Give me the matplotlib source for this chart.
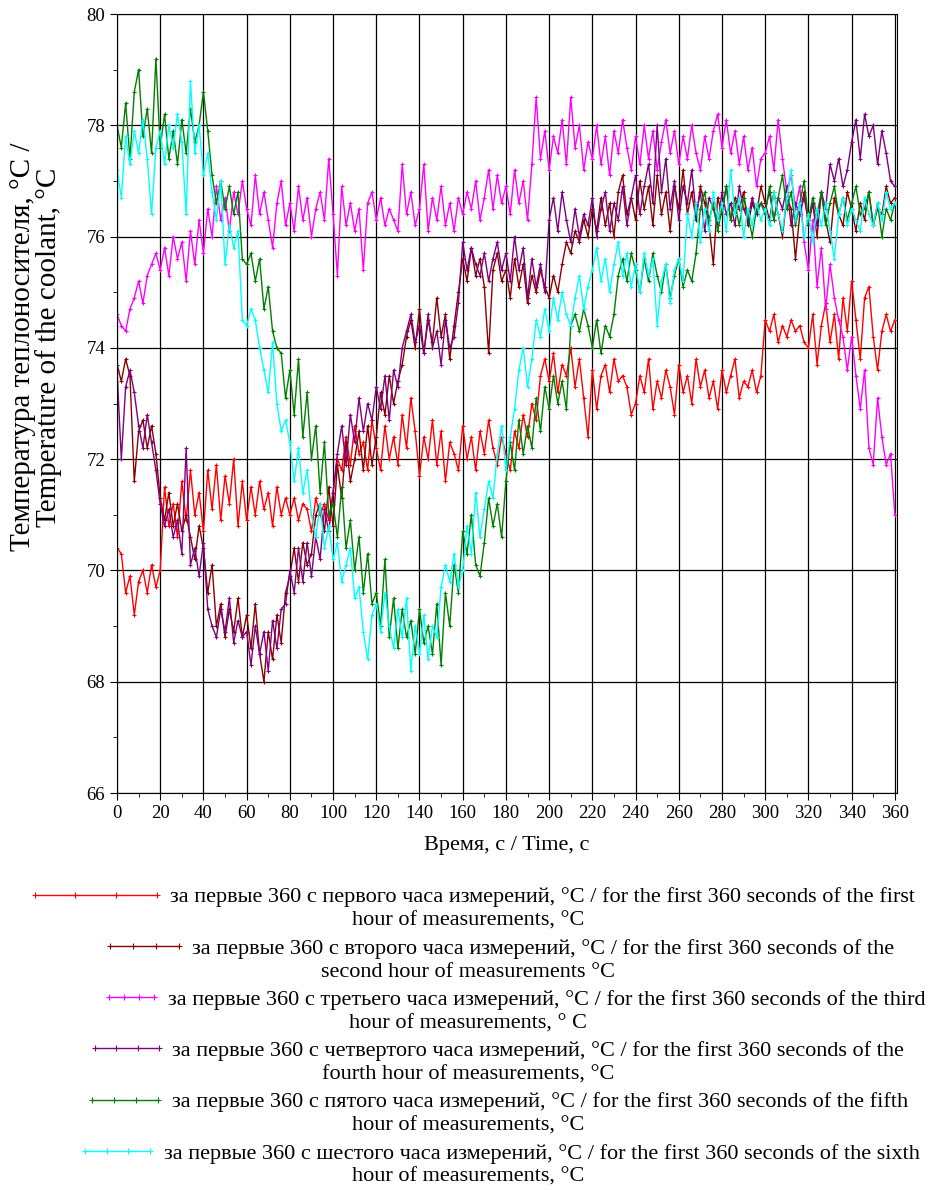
import numpy as np
import matplotlib.pyplot as plt
from matplotlib.ticker import MultipleLocator

plt.rcParams['font.family'] = ['Liberation Serif', 'DejaVu Serif']

# time, s (every 2nd second)
time_s = list(range(0, 361, 2))

hour1 = [70.4, 70.3, 69.6, 69.9, 69.2, 69.8, 70.0, 69.6, 70.1, 69.7,
         70.0, 71.5, 70.8, 71.2, 70.6, 71.6, 70.9, 71.8, 71.0, 71.4,
         70.7, 71.8, 71.1, 71.9, 70.9, 71.7, 71.2, 72.0, 70.8, 71.6,
         70.9, 71.5, 71.0, 71.6, 71.1, 71.4, 70.8, 71.5, 71.0, 71.3,
         71.0, 71.3, 70.9, 71.2, 71.1, 70.7, 71.3, 71.0, 71.2, 70.9,
         71.4, 72.0, 71.8, 72.4, 71.9, 72.6, 72.1, 72.3, 71.8, 72.7,
         72.2, 71.8, 72.6, 72.0, 72.4, 71.9, 72.8, 72.2, 73.1, 72.5,
         71.7, 72.4, 72.0, 72.7, 71.9, 72.5, 71.6, 72.3, 72.1, 71.8,
         72.6, 72.0, 72.4, 71.8, 72.5, 72.1, 72.7, 72.2, 71.9, 72.4,
         72.1, 71.8, 72.5, 72.2, 72.8, 72.4, 73.0, 72.7, 73.5, 73.8,
         73.4, 73.9, 73.2, 73.7, 73.5, 74.0, 73.3, 73.8, 73.1, 72.4,
         73.6, 72.9, 73.5, 73.7, 73.2, 73.8, 73.4, 73.5, 73.3, 72.8,
         73.0, 73.5, 73.2, 73.8, 72.9, 73.4, 73.1, 73.6, 73.3, 72.8,
         73.7, 73.2, 73.5, 73.0, 73.8, 73.3, 73.6, 73.1, 73.4, 72.9,
         73.6, 73.2, 73.5, 73.8, 73.1, 73.4, 73.3, 73.6, 73.2, 73.5,
         74.5, 74.3, 74.6, 74.1, 74.4, 74.2, 74.5, 74.3, 74.4, 74.1,
         74.0, 74.6, 73.7, 74.4, 74.8, 74.1, 74.6, 73.8, 74.9, 74.3,
         75.2, 74.5, 73.8, 74.9, 75.1, 74.2, 73.6, 74.3, 74.6, 74.3,
         74.5]

hour2 = [73.7, 73.4, 73.8, 73.5, 71.6, 72.5, 72.7, 72.2, 72.6, 72.1,
         71.3, 70.9, 71.4, 70.8, 71.2, 70.7, 71.0, 70.6, 70.2, 70.8,
         70.4, 69.6, 70.1, 69.0, 69.4, 68.8, 69.3, 68.9, 69.5, 68.8,
         69.2, 68.6, 69.4, 68.5, 68.0, 68.9, 68.4, 69.2, 68.7, 69.6,
         69.9, 70.4, 69.8, 70.5, 70.1, 70.3, 71.0, 71.2, 70.7, 71.5,
         70.8, 71.9, 71.3, 72.3, 71.6, 72.0, 72.5, 71.8, 72.6, 71.9,
         72.4, 73.2, 72.8, 73.5, 73.0, 73.4, 73.7, 74.2, 74.5, 74.0,
         74.7, 73.9, 74.5, 74.1, 74.9, 74.2, 74.6, 73.8, 74.4, 75.0,
         75.6, 75.2, 75.8, 75.3, 75.6, 75.1, 73.9, 75.4, 75.7, 75.2,
         75.4, 74.9, 75.6, 75.1, 75.5, 74.8, 75.3, 75.0, 75.4, 75.1,
         74.9, 75.3, 75.0, 75.5, 75.9, 75.7, 76.1, 75.9, 76.3, 76.0,
         76.5, 76.1, 76.7, 76.2, 76.6, 76.0, 76.8, 77.1, 76.4, 76.7,
         76.3, 77.0, 76.5, 76.9, 76.2, 77.1, 76.4, 76.8, 76.1, 76.9,
         76.5, 77.2, 76.4, 76.8, 76.3, 76.9, 76.6, 76.2, 75.5, 76.7,
         76.4, 76.9, 76.3, 76.7, 76.5, 76.8, 76.2, 76.6, 76.4, 76.9,
         76.6, 76.3, 76.8, 76.4, 76.0, 76.7, 76.5, 75.6, 76.4, 76.8,
         76.2, 76.6, 76.0, 76.8, 76.3, 75.9, 76.7, 76.4, 76.2, 76.8,
         76.5, 76.1, 76.6, 76.3, 76.8, 76.2, 76.5, 76.4, 76.9, 76.6,
         76.7]

hour3 = [74.6, 74.4, 74.3, 74.7, 74.9, 75.2, 74.8, 75.3, 75.5, 75.7,
         75.4, 75.8, 75.3, 76.0, 75.6, 75.9, 75.2, 76.1, 75.5, 76.3,
         75.7, 76.5, 76.0, 76.9, 76.3, 76.7, 76.1, 76.8, 76.4, 77.0,
         76.5, 76.2, 77.1, 76.4, 76.8, 76.3, 75.8, 76.6, 77.0, 76.2,
         76.6, 76.1, 76.9, 76.3, 76.7, 76.0, 76.5, 76.8, 76.3, 77.4,
         76.4, 75.3, 76.9, 76.2, 76.6, 76.1, 76.5, 75.4, 76.6, 76.8,
         76.3, 76.7, 76.2, 76.5, 76.3, 76.1, 77.3, 76.4, 76.8, 76.2,
         76.5, 77.3, 76.1, 76.7, 76.3, 76.9, 76.2, 76.6, 76.1, 76.7,
         76.4, 76.8, 76.5, 77.0, 76.3, 76.7, 77.2, 76.5, 77.1, 76.6,
         76.9, 76.4, 77.2, 76.6, 77.0, 76.3, 77.3, 78.5, 77.4, 77.9,
         77.2, 77.8, 77.5, 78.1, 77.3, 78.5, 77.6, 78.0, 77.2, 77.7,
         77.4, 78.0, 77.3, 77.8, 77.1, 77.9, 77.5, 78.1, 77.6, 77.2,
         77.8, 77.3, 78.0, 77.4, 77.9, 77.2, 77.7, 78.1, 77.5, 77.9,
         77.3, 77.8, 77.4, 78.0, 77.5, 77.2, 77.8, 77.4, 77.9, 78.2,
         77.6, 78.1, 77.5, 77.9, 77.3, 77.8, 77.2, 77.6, 76.9, 77.4,
         77.5, 77.8, 77.2, 78.1, 77.4, 76.8, 77.1, 76.5, 76.9, 75.9,
         75.4, 76.3, 75.1, 75.8, 74.7, 75.5, 74.9, 74.5, 74.2, 73.6,
         74.2, 73.5, 72.9, 73.6, 72.2, 71.9, 73.1, 72.4, 71.9, 72.1,
         71.0]

hour4 = [73.6, 72.0, 73.3, 73.6, 73.2, 72.6, 72.2, 72.8, 72.3, 71.8,
         71.2, 70.8, 71.1, 70.6, 70.9, 70.3, 72.2, 70.1, 70.4, 69.9,
         70.5, 69.3, 69.0, 68.8, 69.3, 68.9, 69.5, 68.7, 69.1, 68.8,
         68.9, 68.3, 69.0, 68.5, 68.9, 68.2, 69.1, 68.6, 69.3, 69.4,
         70.0, 69.6, 70.4, 69.8, 70.5, 69.9, 70.6, 70.2, 71.1, 70.7,
         71.4, 72.1, 72.6, 71.9, 72.8, 72.3, 73.1, 72.5, 73.0, 72.7,
         73.3, 72.9, 73.5, 72.7, 73.6, 73.3, 74.0, 74.3, 74.6, 74.1,
         74.4, 73.9, 74.6, 74.0, 74.3, 73.7, 74.5, 74.0, 74.2, 74.8,
         75.9, 75.4, 75.8, 75.5, 75.3, 75.7, 75.2, 75.6, 75.9, 75.4,
         75.7, 75.2, 76.0, 75.4, 75.8, 74.9, 75.6, 75.1, 75.5, 75.0,
         76.3, 76.7, 76.1, 76.8, 76.3, 75.9, 76.5, 76.0, 76.4, 76.2,
         76.7, 76.0, 76.5, 76.8, 76.1, 76.6, 76.3, 76.9, 76.2, 76.7,
         77.1, 76.4, 76.9, 77.3, 76.6, 78.0, 76.8, 77.4, 76.5, 77.0,
         76.3, 76.9, 76.6, 77.2, 76.4, 76.8, 76.1, 76.7, 76.5, 76.2,
         76.8, 76.4, 76.6, 76.2, 76.9, 76.5, 76.3, 76.7, 76.4, 76.6,
         76.5, 76.8, 76.3, 76.7, 76.5, 76.9, 76.2, 76.6, 76.4, 76.7,
         76.3, 76.6, 76.2, 76.8, 76.5, 77.3, 77.0, 77.4, 76.9, 77.2,
         77.7, 78.1, 77.4, 78.2, 77.8, 78.0, 77.3, 77.9, 77.5, 77.0,
         76.9]

hour5 = [78.0, 77.6, 78.4, 77.4, 78.6, 79.0, 77.8, 78.3, 77.5, 79.2,
         77.6, 78.2, 77.4, 77.9, 77.3, 78.1, 77.5, 78.3, 77.7, 78.0,
         78.6, 77.9, 77.1, 76.6, 77.0, 76.5, 76.9, 76.4, 76.8, 75.6,
         75.5, 75.7, 75.2, 75.6, 74.7, 75.1, 74.3, 74.0, 73.9, 73.1,
         73.6, 72.8, 73.8, 72.4, 73.2, 72.0, 72.6, 71.4, 72.3, 71.0,
         71.2, 70.6, 71.5, 70.4, 70.9, 70.0, 70.6, 69.6, 70.3, 69.4,
         69.6, 69.0, 70.2, 68.8, 69.5, 68.6, 69.3, 68.8, 69.1, 68.5,
         69.3, 68.7, 69.0, 68.5, 69.4, 68.3, 69.6, 69.0, 70.1, 69.6,
         70.7, 70.3, 71.0, 70.1, 69.9, 70.5, 71.3, 70.8, 71.2, 70.6,
         71.6, 72.3, 71.8, 72.7, 72.1, 72.6, 72.2, 73.1, 72.5, 73.3,
         72.9, 73.5, 73.0, 73.4, 72.9, 74.4, 74.6, 74.3, 74.7, 74.4,
         74.0, 74.5, 73.9, 74.4, 74.2, 74.6, 75.3, 75.6, 75.2, 75.7,
         75.4, 75.0, 75.6, 75.2, 75.7, 75.3, 75.0, 75.5, 74.9, 75.3,
         75.6, 75.1, 75.4, 75.2, 75.7, 76.5, 76.8, 76.3, 76.6, 76.1,
         76.5, 76.9, 76.3, 76.6, 76.2, 76.7, 76.4, 76.0, 76.5, 76.6,
         76.4, 76.9, 76.3, 76.7, 77.1, 76.5, 76.8, 76.2, 76.6, 77.0,
         76.3, 76.7, 76.4, 76.8, 76.2, 76.6, 76.9, 76.4, 76.7, 76.3,
         76.6, 76.9, 76.4, 76.5, 76.8, 76.2, 76.6, 76.0, 76.5, 76.3,
         76.6]

hour6 = [77.2, 76.7, 77.8, 77.3, 77.9, 77.5, 78.1, 77.4, 76.4, 77.6,
         77.9, 77.3, 78.0, 77.6, 78.2, 77.7, 76.4, 78.8, 77.5, 78.0,
         77.1, 77.5, 76.8, 76.3, 77.0, 75.5, 76.2, 75.8, 76.1, 74.5,
         74.4, 74.7, 74.5, 74.0, 73.6, 73.2, 74.1, 73.0, 72.5, 72.7,
         72.3, 71.6, 72.2, 71.4, 71.8, 71.0, 70.6, 71.2, 70.4, 70.8,
         70.2, 70.5, 69.8, 70.1, 70.4, 69.5, 69.7, 68.9, 68.4, 69.2,
         69.4, 68.9, 69.6, 69.0, 68.6, 69.3, 68.8, 69.5, 68.2, 69.0,
         68.5, 69.2, 68.4, 69.0, 68.8, 69.7, 70.1, 69.8, 70.3, 69.7,
         70.0, 70.8, 70.3, 71.4, 70.6, 71.1, 71.6, 71.3, 72.1, 72.6,
         71.8, 72.4, 72.9, 73.6, 74.0, 73.3, 73.8, 74.5, 74.2, 74.7,
         74.3, 74.9, 74.5, 75.0, 74.6, 74.4, 74.9, 75.3, 74.7, 75.1,
         75.4, 75.8, 75.2, 75.6, 75.0, 75.5, 75.9, 75.3, 75.7, 75.1,
         75.5, 75.0, 75.7, 75.3, 75.6, 74.4, 75.2, 75.5, 74.8, 75.4,
         75.6, 75.2, 76.4, 76.0, 76.6, 75.9, 76.5, 76.1, 76.8, 76.3,
         76.6, 76.1, 77.2, 76.4, 76.7, 76.0, 76.5, 76.2, 76.6, 76.3,
         76.5, 76.2, 76.8, 76.4, 76.1, 76.7, 77.2, 76.3, 76.6, 76.0,
         76.4, 75.9, 76.5, 76.2, 76.6, 76.1, 75.6, 76.4, 76.7, 76.2,
         76.5, 76.3, 76.1, 76.7, 76.4, 76.2, 76.6, 76.3, 76.8, 76.5,
         76.6]

# legend text: first line goes next to the handle, second line is centred below
label_first = [
    "за первые 360 с первого часа измерений, °C / for the first 360 seconds of the first",
    "за первые 360 с второго часа измерений, °C / for the first 360 seconds of the",
    "за первые 360 с третьего часа измерений, °C / for the first 360 seconds of the third",
    "за первые 360 с четвертого часа измерений, °C / for the first 360 seconds of the",
    "за первые 360 с пятого часа измерений, °C / for the first 360 seconds of the fifth",
    "за первые 360 с шестого часа измерений, °C / for the first 360 seconds of the sixth",
]
label_second = [
    "hour of measurements, °C",
    "second hour of measurements °C",
    "hour of measurements, ° C",
    "fourth hour of measurements, °C",
    "hour of measurements, °C",
    "hour of measurements, °C",
]
colors = ['#ff0000', '#8b0000', '#ff00ff', '#800080', '#008000', '#00ffff']
series = [hour1, hour2, hour3, hour4, hour5, hour6]

fig = plt.figure(figsize=(9.3, 11.9), dpi=100)
ax = fig.add_axes([117 / 930, 1 - 793 / 1190, 780 / 930, 779 / 1190])

lines = []
for vals, c in zip(series, colors):
    ln, = ax.plot(time_s, vals, color=c, lw=1, marker='+', ms=3, mew=0.8)
    lines.append(ln)

ax.set_xlim(0, 361)
ax.set_ylim(66, 80)
ax.xaxis.set_major_locator(MultipleLocator(20))
ax.xaxis.set_minor_locator(MultipleLocator(10))
ax.yaxis.set_major_locator(MultipleLocator(2))
ax.yaxis.set_minor_locator(MultipleLocator(1))
ax.grid(True, which='major', color='black', lw=0.9)
ax.tick_params(which='both', direction='out', labelsize=13.5)
ax.tick_params(which='major', length=5)
ax.tick_params(which='minor', length=3)
for sp in ax.spines.values():
    sp.set_color('black')

ax.set_xlabel("Время, с / Time, c", fontsize=16, labelpad=10)
ax.set_ylabel("Температура теплоносителя, °C /\nTemperature of the coolant, °C",
              fontsize=21, linespacing=0.95)
ax.yaxis.set_label_coords(-0.07, 0.5725)

# one legend per entry so each one sits where it does in the original
handle_len = [6.1, 3.7, 2.65, 3.5, 3.6, 3.55]
handle_x = [28, 103, 102, 88, 85, 78]
for i, ln in enumerate(lines):
    y_line1 = 1 - (897 + i * 51.3) / 1190
    y_line2 = 1 - (921 + i * 51.3) / 1190
    fig.legend([ln], [label_first[i]], loc='center left',
               bbox_to_anchor=(handle_x[i] / 930, y_line1),
               frameon=False, fontsize=16, handlelength=handle_len[i],
               handletextpad=0.3, borderpad=0, borderaxespad=0,
               numpoints=4, markerscale=1.3)
    fig.text(0.503, y_line2, label_second[i], fontsize=16,
             ha='center', va='center')

fig.savefig("out.png", dpi=100)
